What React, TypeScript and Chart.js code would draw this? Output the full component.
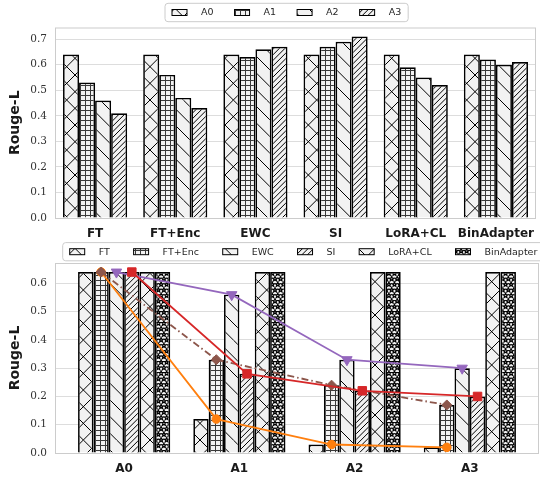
import React, { useEffect, useRef } from 'react';
import { Chart, registerables } from 'chart.js';

Chart.register(...registerables);

// ---------- Top chart data ----------
const methods = ['FT', 'FT+Enc', 'EWC', 'SI', 'LoRA+CL', 'BinAdapter'];
const topSeriesNames = ['A0', 'A1', 'A2', 'A3'];
const topA0 = [0.64, 0.64, 0.64, 0.64, 0.64, 0.64];
const topA1 = [0.53, 0.56, 0.63, 0.67, 0.59, 0.62];
const topA2 = [0.46, 0.47, 0.66, 0.69, 0.55, 0.6];
const topA3 = [0.41, 0.43, 0.67, 0.71, 0.52, 0.61];
const topYTicks = [0, 0.1, 0.2, 0.3, 0.4, 0.5, 0.6, 0.7];
const topYMax = 0.7455;

// ---------- Bottom chart data ----------
const tasks = ['A0', 'A1', 'A2', 'A3'];
const ftVals = [0.64, 0.12, 0.03, 0.02];
const ftEncVals = [0.64, 0.33, 0.24, 0.17];
const ewcVals = [0.64, 0.56, 0.33, 0.3];
const siVals = [0.64, 0.28, 0.22, 0.2];
const loraVals = [0.64, 0.64, 0.64, 0.64];
const binVals = [0.64, 0.64, 0.64, 0.64];
const bottomYTicks = [0, 0.1, 0.2, 0.3, 0.4, 0.5, 0.6];
const bottomYMax = 0.672;

// hatch styles
const topHatches = ['x', '+', 'back', 'fwd'];
const bottomHatches = ['x', '+', 'back', 'fwd', 'x', 'star'];

const CAT_PCT = 0.8;

function makePattern(kind: string): CanvasPattern {
  const S = 100;
  const cv = document.createElement('canvas');
  cv.width = S;
  cv.height = S;
  const g = cv.getContext('2d')!;
  g.fillStyle = '#f2f2f2';
  g.fillRect(0, 0, S, S);
  g.strokeStyle = '#000';
  g.lineWidth = 1;
  const back = (n: number) => {
    const st = S / n;
    g.beginPath();
    for (let k = -n - 1; k <= n + 1; k++) {
      const c = k * st;
      g.moveTo(c, 0);
      g.lineTo(c + S, S);
    }
    g.stroke();
  };
  const fwd = (n: number) => {
    const st = S / n;
    g.beginPath();
    for (let k = 0; k <= 2 * n + 1; k++) {
      const c = k * st;
      g.moveTo(c, 0);
      g.lineTo(c - S, S);
    }
    g.stroke();
  };
  if (kind === 'x') {
    back(6);
    fwd(6);
  } else if (kind === 'back') {
    back(6);
  } else if (kind === 'fwd') {
    fwd(18);
  } else if (kind === '+') {
    const n = 20;
    const st = S / n;
    g.strokeStyle = '#3a3a3a';
    g.beginPath();
    for (let k = 0; k <= n; k++) {
      const p = k * st + 0.5;
      g.moveTo(0, p);
      g.lineTo(S, p);
      g.moveTo(p, 0);
      g.lineTo(p, S);
    }
    g.stroke();
  } else if (kind === 'star') {
    const n = 18;
    const st = S / n;
    const R = st / 3 + 0.5;
    const star = (cx: number, cy: number) => {
      g.beginPath();
      for (let i = 0; i < 10; i++) {
        const r = i % 2 === 0 ? R : R * 0.45;
        const a = -Math.PI / 2 + (i * Math.PI) / 5;
        const x = cx + r * Math.cos(a);
        const y = cy + r * Math.sin(a);
        if (i === 0) g.moveTo(x, y);
        else g.lineTo(x, y);
      }
      g.closePath();
      g.stroke();
    };
    g.lineWidth = 1.2;
    for (let i = 0; i <= n; i++) {
      const y = i * st;
      if (i % 2 === 0) {
        for (let j = 0; j <= n; j++) star(j * st, y);
      } else {
        for (let j = 0; j < n; j++) star(st / 2 + j * st, y);
      }
    }
  }
  return g.createPattern(cv, 'repeat')!;
}

const framePlugin = {
  id: 'frame',
  beforeDatasetsDraw(chart: any) {
    const { ctx, chartArea: a } = chart;
    ctx.save();
    ctx.strokeStyle = '#cccccc';
    ctx.lineWidth = 1;
    ctx.strokeRect(a.left + 0.5, a.top + 0.5, a.right - a.left - 1, a.bottom - a.top);
    ctx.restore();
  },
};

const hatchLegend = {
  id: 'hatchLegend',
  afterDraw(chart: any, _args: any, opts: any) {
    const ctx: CanvasRenderingContext2D = chart.ctx;
    const items = chart.data.datasets.filter((d: any) => (d.type || chart.config.type) === 'bar');
    ctx.save();
    ctx.font = opts.font;
    const widths = items.map((d: any) => ctx.measureText(d.label).width);
    let w = opts.pad * 2;
    widths.forEach((tw: number, i: number) => {
      w += opts.textOffset + tw + (i < widths.length - 1 ? opts.colSpacing : 0);
    });
    const x0 = opts.x;
    const y0 = opts.y;
    const h = opts.height;
    const r = 3;
    ctx.beginPath();
    ctx.moveTo(x0 + r, y0);
    ctx.arcTo(x0 + w, y0, x0 + w, y0 + h, r);
    ctx.arcTo(x0 + w, y0 + h, x0, y0 + h, r);
    ctx.arcTo(x0, y0 + h, x0, y0, r);
    ctx.arcTo(x0, y0, x0 + w, y0, r);
    ctx.closePath();
    ctx.fillStyle = 'rgba(255,255,255,0.85)';
    ctx.fill();
    ctx.strokeStyle = '#cccccc';
    ctx.lineWidth = 1;
    ctx.stroke();
    const yc = y0 + h / 2;
    let cx = x0 + opts.pad;
    items.forEach((d: any, i: number) => {
      ctx.fillStyle = d.backgroundColor;
      ctx.fillRect(cx, yc - opts.handleH / 2, opts.handleW, opts.handleH);
      ctx.strokeStyle = '#000';
      ctx.lineWidth = 1;
      ctx.strokeRect(cx, yc - opts.handleH / 2, opts.handleW, opts.handleH);
      ctx.fillStyle = '#262626';
      ctx.textBaseline = 'middle';
      ctx.textAlign = 'left';
      ctx.fillText(d.label, cx + opts.textOffset, yc + 0.5);
      cx += opts.textOffset + widths[i] + opts.colSpacing;
    });
    ctx.restore();
  },
};

const yTickFont = { family: '"DejaVu Serif"', size: 10.5 };
const xTickFont = { family: '"DejaVu Sans"', size: 12, weight: 'bold' as const };
const yTitleFont = { family: '"DejaVu Sans"', size: 14, weight: 'bold' as const };
const legendFont = '9.5px "DejaVu Sans"';

export default function App() {
  const topRef = useRef<HTMLCanvasElement>(null);
  const botRef = useRef<HTMLCanvasElement>(null);

  useEffect(() => {
    const pats: Record<string, CanvasPattern> = {};
    ['x', '+', 'back', 'fwd', 'star'].forEach((k) => (pats[k] = makePattern(k)));

    const topSeries = [topA0, topA1, topA2, topA3];
    const c1 = new Chart(topRef.current!, {
      type: 'bar',
      data: {
        labels: methods,
        datasets: topSeries.map((vals, i) => ({
          label: topSeriesNames[i],
          data: vals,
          backgroundColor: pats[topHatches[i]] as any,
          borderColor: '#000',
          borderWidth: 1.7,
          categoryPercentage: CAT_PCT,
          barPercentage: 1.0,
        })),
      },
      options: {
        responsive: false,
        maintainAspectRatio: false,
        animation: false,
        devicePixelRatio: 1,
        layout: { padding: { top: 27.5, left: 0, right: 0, bottom: 0 } },
        plugins: {
          legend: { display: false },
          tooltip: { enabled: false },
          hatchLegend: {
            x: 165,
            y: 3.3,
            height: 18.4,
            pad: 7,
            handleW: 15,
            handleH: 6,
            textOffset: 29,
            colSpacing: 21,
            font: legendFont,
          },
        } as any,
        scales: {
          x: {
            type: 'category',
            offset: true,
            grid: { display: false, drawTicks: false },
            border: { display: false },
            ticks: { font: xTickFont, color: '#1a1a1a', padding: 9, maxRotation: 0, autoSkip: false },
            afterFit: (s: any) => {
              s.height = 22;
            },
          },
          y: {
            min: 0,
            max: topYMax,
            afterBuildTicks: (s: any) => {
              s.ticks = topYTicks.map((v) => ({ value: v }));
            },
            ticks: {
              font: yTickFont,
              color: '#333',
              padding: 8,
              callback: (v: any) => Number(v).toFixed(1),
            },
            grid: { color: '#dddddd', lineWidth: 1, drawTicks: false },
            border: { display: false },
            title: { display: true, text: 'Rouge-L', font: yTitleFont, color: '#1a1a1a', padding: { top: 7, bottom: 0 } },
            afterFit: (s: any) => {
              s.width = 55;
            },
          },
        },
      },
      plugins: [framePlugin, hatchLegend],
    });

    const barSeries = [ftVals, ftEncVals, ewcVals, siVals, loraVals, binVals];
    const nBars = barSeries.length;
    const barCenter = (j: number) => -CAT_PCT / 2 + ((j + 0.5) * CAT_PCT) / nBars;
    const lineDefs = [
      { vals: siVals, at: 3, color: '#d62728', style: 'rect', radius: 6, rot: 0, dash: [] as number[], order: 0 },
      { vals: ewcVals, at: 2, color: '#9467bd', style: 'triangle', radius: 6, rot: 180, dash: [] as number[], order: 1 },
      { vals: ftEncVals, at: 1, color: '#8c564b', style: 'rectRot', radius: 5, rot: 0, dash: [7, 3, 1.5, 3], order: 2 },
      { vals: ftVals, at: 1, color: '#ff7f0e', style: 'circle', radius: 4.3, rot: 0, dash: [] as number[], order: 3 },
    ];

    const c2 = new Chart(botRef.current!, {
      type: 'bar',
      data: {
        datasets: [
          ...barSeries.map((vals, i) => ({
            type: 'bar' as const,
            label: methods[i],
            data: vals.map((v, k) => ({ x: k, y: v })),
            backgroundColor: pats[bottomHatches[i]] as any,
            borderColor: '#000',
            borderWidth: 1.7,
            categoryPercentage: CAT_PCT,
            barPercentage: 1.0,
            order: 10,
          })),
          ...lineDefs.map((d) => ({
            type: 'line' as const,
            label: '',
            data: d.vals.map((v, k) => ({ x: k + barCenter(d.at), y: v })),
            borderColor: d.color,
            backgroundColor: d.color,
            borderWidth: 1.8,
            borderDash: d.dash,
            pointStyle: d.style as any,
            pointRadius: d.radius,
            pointRotation: d.rot,
            pointBackgroundColor: d.color,
            pointBorderColor: d.color,
            pointBorderWidth: 1,
            tension: 0,
            fill: false,
            order: d.order,
          })),
        ] as any,
      },
      options: {
        responsive: false,
        maintainAspectRatio: false,
        animation: false,
        devicePixelRatio: 1,
        layout: { padding: { top: 23, left: 0, right: 0, bottom: 0 } },
        plugins: {
          legend: { display: false },
          tooltip: { enabled: false },
          hatchLegend: {
            x: 62.7,
            y: 2.6,
            height: 18.2,
            pad: 7,
            handleW: 15,
            handleH: 6,
            textOffset: 29,
            colSpacing: 23.8,
            font: legendFont,
          },
        } as any,
        scales: {
          x: {
            type: 'linear',
            min: -0.6,
            max: 3.6,
            offset: false,
            afterBuildTicks: (s: any) => {
              s.ticks = tasks.map((_, i) => ({ value: i }));
            },
            grid: { display: false, offset: false, drawTicks: false },
            border: { display: false },
            ticks: {
              font: xTickFont,
              color: '#1a1a1a',
              padding: 9,
              maxRotation: 0,
              autoSkip: false,
              callback: (v: any) => tasks[Math.round(Number(v))] ?? '',
            },
            afterFit: (s: any) => {
              s.height = 25;
            },
          },
          y: {
            min: 0,
            max: bottomYMax,
            afterBuildTicks: (s: any) => {
              s.ticks = bottomYTicks.map((v) => ({ value: v }));
            },
            ticks: {
              font: yTickFont,
              color: '#333',
              padding: 8,
              callback: (v: any) => Number(v).toFixed(1),
            },
            grid: { color: '#dddddd', lineWidth: 1, drawTicks: false },
            border: { display: false },
            title: { display: true, text: 'Rouge-L', font: yTitleFont, color: '#1a1a1a', padding: { top: 7, bottom: 0 } },
            afterFit: (s: any) => {
              s.width = 55;
            },
          },
        },
      },
      plugins: [framePlugin, hatchLegend],
    });

    return () => {
      c1.destroy();
      c2.destroy();
    };
  }, []);

  return (
    <div
      style={{
        position: 'fixed',
        left: 0,
        top: 0,
        width: 540,
        height: 478,
        overflow: 'hidden',
        background: '#fff',
      }}
    >
      <canvas ref={topRef} width={543} height={240} style={{ position: 'absolute', left: 0, top: 0, display: 'block' }} />
      <canvas ref={botRef} width={546} height={238} style={{ position: 'absolute', left: 0, top: 240, display: 'block' }} />
    </div>
  );
}
